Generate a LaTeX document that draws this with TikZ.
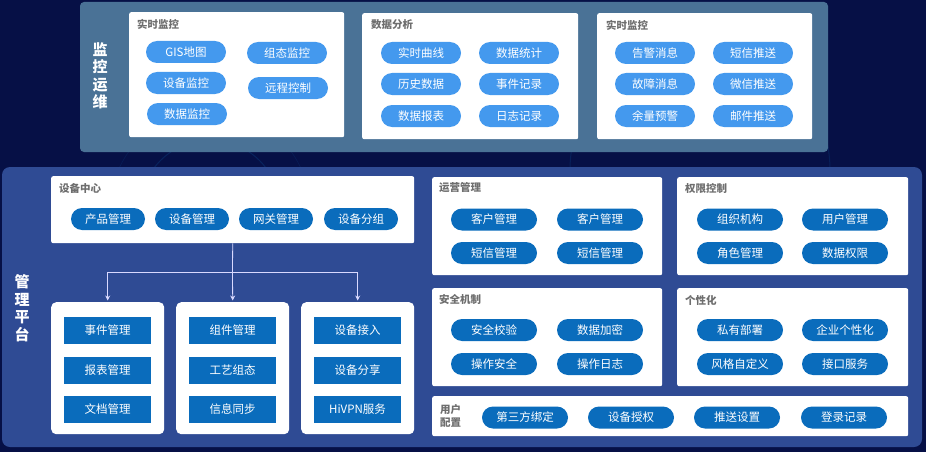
\documentclass[tikz,border=0pt]{standalone}
\usepackage{fontspec}
\setmainfont{Noto Sans CJK SC}
\usetikzlibrary{positioning,arrows.meta}

\definecolor{navy}{RGB}{6,16,70}
\definecolor{steel}{RGB}{74,114,150}
\definecolor{platform}{RGB}{47,75,148}
\definecolor{lightpill}{RGB}{68,153,238}
\definecolor{darkpill}{RGB}{10,108,188}
\definecolor{titlegray}{RGB}{110,110,110}

\tikzset{
  panel/.style={fill=white, rounded corners=2pt, anchor=north west, inner sep=0pt},
  boxtitle/.style={anchor=west, inner sep=0pt, text=titlegray, font=\fontsize{10.5}{12}\selectfont\bfseries},
  sidelabel/.style={align=center, inner sep=0pt, text=white, font=\fontsize{15}{17.5}\selectfont\bfseries},
  lpill/.style={fill=lightpill, text=white, rounded corners=11pt, minimum width=80pt, minimum height=22pt, inner sep=0pt, font=\fontsize{11.5}{12}\selectfont},
  dpill/.style={lpill, fill=darkpill, minimum width=74pt},
  wpill/.style={dpill, minimum width=86pt},
  item/.style={fill=darkpill, text=white, minimum width=87pt, minimum height=27pt, inner sep=0pt, font=\fontsize{11.5}{12}\selectfont},
  link/.style={draw=white!85!blue, line width=0.8pt},
}

\begin{document}
\begin{tikzpicture}[x=1pt, y=-1pt]

\useasboundingbox (0,0) rectangle (926,452);
\fill[navy] (0,0) rectangle (926,452);

%% faint rings in the background
\draw[cyan!60!blue, opacity=0.18, line width=1pt] (210,210) circle (70);
\draw[cyan!60!blue, opacity=0.12, line width=0.6pt] (210,210) circle (100);
\draw[cyan!60!blue, opacity=0.15, line width=1pt] (700,170) circle (130);

%% ---------------- monitoring and operation ----------------
\fill[steel, rounded corners=4pt] (80,2) rectangle (828,152);
\node[sidelabel] (jkyw) at (100,76) {监\\控\\运\\维};

%% real-time monitoring
\node[panel, minimum width=215pt, minimum height=125pt] (ssjk) at (129,12) {};
\node[boxtitle] (ssjkt) at (137,24) {实时监控};
\node[lpill] (gis) at (186,52) {GIS地图};
\node[lpill] (sbjk) at (186,83) {设备监控};
\node[lpill] (sjjk) at (187,114) {数据监控};
\node[lpill] (ztjk) at (287,53) {组态监控};
\node[lpill] (yckz) at (288,88) {远程控制};

%% data analysis
\node[panel, minimum width=216pt, minimum height=126pt] (sjfx) at (362,13) {};
\node[boxtitle] (sjfxt) at (371,25) {数据分析};
\node[lpill] (ssqx) at (421,53) {实时曲线};
\node[lpill] (lssj) at (421,84) {历史数据};
\node[lpill] (sjbb) at (421,116) {数据报表};
\node[lpill] (sjtj) at (519,53) {数据统计};
\node[lpill] (sjjl) at (519,84) {事件记录};
\node[lpill] (rzjl) at (519,116) {日志记录};

%% real-time monitoring (messages)
\node[panel, minimum width=215pt, minimum height=126pt] (xxts) at (597,13) {};
\node[boxtitle] (xxtst) at (606,25) {实时监控};
\node[lpill] (gjxx) at (655,53) {告警消息};
\node[lpill] (gzxx) at (655,84) {故障消息};
\node[lpill] (ylyj) at (655,116) {余量预警};
\node[lpill] (dxts) at (753,53) {短信推送};
\node[lpill] (wxts) at (753,84) {微信推送};
\node[lpill] (yjts) at (753,116) {邮件推送};

%% ---------------- management platform ----------------
\fill[platform, rounded corners=8pt] (2,167) rectangle (922,447);
\node[sidelabel] (glpt) at (22,308) {管\\理\\平\\台};

%% device center
\node[panel, minimum width=363pt, minimum height=67pt] (sbzx) at (51,176) {};
\node[boxtitle] (sbzxt) at (59,188) {设备中心};
\node[dpill] (cpgl) at (108,219) {产品管理};
\node[dpill] (sbgl) at (192,219) {设备管理};
\node[dpill] (wggl) at (276,219) {网关管理};
\node[dpill] (sbfz) at (361,219) {设备分组};

%% three lower groups
\node[panel, rounded corners=5pt, minimum width=113pt, minimum height=132pt] (grpa) at (51,302) {};
\node[panel, rounded corners=5pt, minimum width=113pt, minimum height=132pt] (grpb) at (176,302) {};
\node[panel, rounded corners=5pt, minimum width=113pt, minimum height=132pt] (grpc) at (301,302) {};

\node[item] (sjgl) at (107.5,330.5) {事件管理};
\node[item] (bbgl) at (107.5,370) {报表管理};
\node[item] (wdgl) at (107.5,409) {文档管理};
\node[item] (zjgl) at (232.5,330.5) {组件管理};
\node[item] (gyzt) at (232.5,370) {工艺组态};
\node[item] (xxtb) at (232.5,409) {信息同步};
\node[item] (sbjr) at (357.5,330.5) {设备接入};
\node[item] (sbfx) at (357.5,370) {设备分享};
\node[item] (hivpn) at (357.5,409) {HiVPN服务};

%% connectors from the device center
\coordinate (split) at (232.5,272);
\draw[link] (sbzx.south) -- (split);
\draw[link, -{Stealth[length=5pt,width=5pt]}, shorten >=1.5pt] (split) -- (grpb.north);
\draw[link, -{Stealth[length=5pt,width=5pt]}, shorten >=1.5pt] (split) -| (grpa.north);
\draw[link, -{Stealth[length=5pt,width=5pt]}, shorten >=1.5pt] (split) -| (grpc.north);

%% operation management
\node[panel, minimum width=230pt, minimum height=98pt] (yygl) at (432,177) {};
\node[boxtitle] (yyglt) at (439,188) {运营管理};
\node[wpill] (khgl) at (494,219.5) {客户管理};
\node[wpill] (khglb) at (600,219.5) {客户管理};
\node[wpill] (dxgl) at (494,253) {短信管理};
\node[wpill] (dxglb) at (600,253) {短信管理};

%% permission control
\node[panel, minimum width=231pt, minimum height=98pt] (qxkz) at (677,177) {};
\node[boxtitle] (qxkzt) at (685,188) {权限控制};
\node[wpill] (zzjg) at (740,219.5) {组织机构};
\node[wpill] (yhgl) at (845,219.5) {用户管理};
\node[wpill] (jsgl) at (740,253) {角色管理};
\node[wpill] (sjqx) at (845,253) {数据权限};

%% security
\node[panel, minimum width=230pt, minimum height=98pt] (aqjz) at (432,288) {};
\node[boxtitle] (aqjzt) at (439,300) {安全机制};
\node[wpill] (aqjy) at (494,330) {安全校验};
\node[wpill] (sjjm) at (600,330) {数据加密};
\node[wpill] (czaq) at (494,364) {操作安全};
\node[wpill] (czrz) at (600,364) {操作日志};

%% personalisation
\node[panel, minimum width=231pt, minimum height=98pt] (gxh) at (677,288) {};
\node[boxtitle] (gxht) at (685,300) {个性化};
\node[wpill] (sybs) at (740,330) {私有部署};
\node[wpill] (qygxh) at (845,330) {企业个性化};
\node[wpill] (fgzdy) at (740,364) {风格自定义};
\node[wpill] (jkfw) at (845,364) {接口服务};

%% user settings
\node[panel, minimum width=476pt, minimum height=40pt] (yhpz) at (432,396) {};
\node[boxtitle, align=left, font=\fontsize{10.5}{13}\selectfont\bfseries] (yhpzt) at (440,416) {用户\\配置};
\node[wpill] (dsfbd) at (525,417.5) {第三方绑定};
\node[wpill] (sbsq) at (631,417.5) {设备授权};
\node[wpill] (tssz) at (737,417.5) {推送设置};
\node[wpill] (dljl) at (844,417.5) {登录记录};

\end{tikzpicture}
\end{document}
